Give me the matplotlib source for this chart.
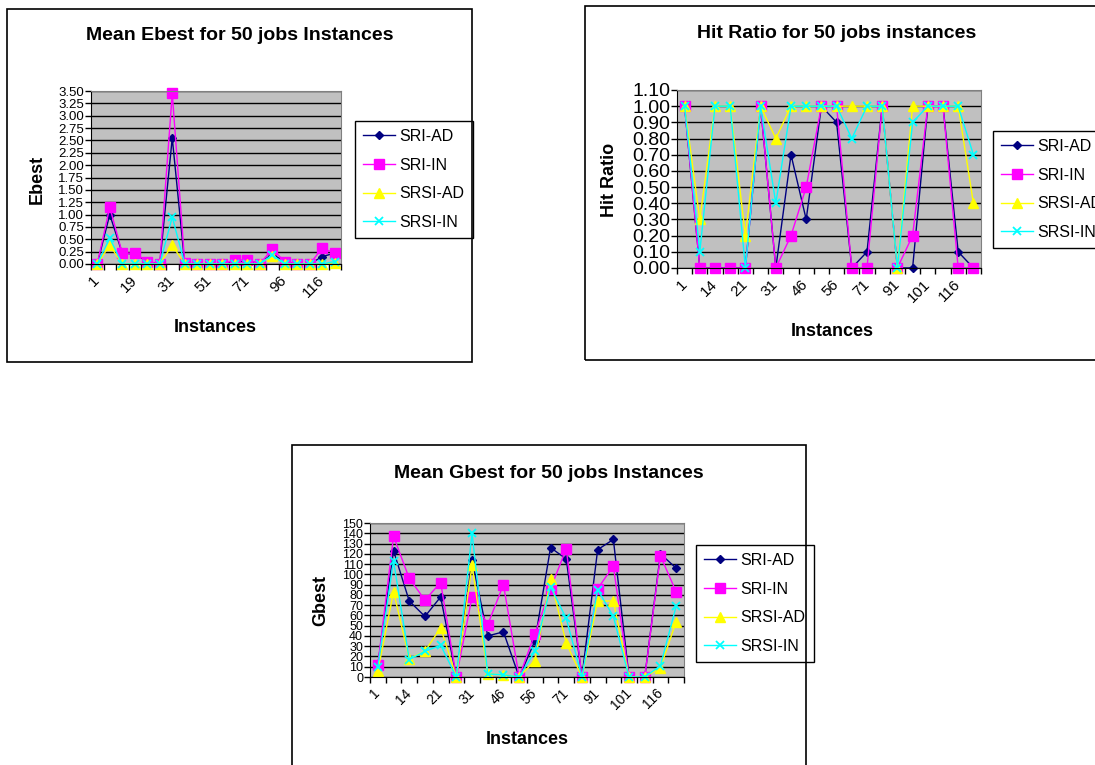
import matplotlib
matplotlib.use("Agg")
import matplotlib.pyplot as plt
from matplotlib.patches import Rectangle

plt.rcParams['font.family'] = ['Liberation Sans', 'DejaVu Sans']

W, H = 1095, 765

# instance labels (only every 2nd / 3rd one is shown, as in the original)
instances = ['1', '6', '14', '19', '21', '26', '31', '36', '46', '51',
             '56', '61', '71', '81', '91', '96', '101', '106', '116', '121']
series_names = ['SRI-AD', 'SRI-IN', 'SRSI-AD', 'SRSI-IN']

# Mean Ebest
ebest_sri_ad = [0, 1.0, 0.22, 0.20, 0.05, 0, 2.55, 0, 0, 0,
                0, 0.05, 0.05, 0.02, 0.20, 0.05, 0, 0, 0.15, 0.22]
ebest_sri_in = [0, 1.15, 0.22, 0.22, 0.05, 0, 3.45, 0.02, 0, 0,
                0, 0.08, 0.08, 0, 0.30, 0.05, 0, 0, 0.32, 0.22]
ebest_srsi_ad = [0, 0.38, 0, 0, 0, 0, 0.38, 0, 0, 0,
                 0, 0, 0, 0, 0.17, 0, 0, 0, 0, 0.03]
ebest_srsi_in = [0, 0.52, 0, 0, 0, 0, 0.95, 0, 0, 0,
                 0, 0, 0, 0, 0.18, 0, 0, 0, 0, 0.05]

# Hit ratio
hit_sri_ad = [1.0, 0, 0, 0, 0, 1.0, 0, 0.7, 0.3, 1.0,
              0.9, 0, 0.1, 1.0, 0, 0, 1.0, 1.0, 0.1, 0]
hit_sri_in = [1.0, 0, 0, 0, 0, 1.0, 0, 0.2, 0.5, 1.0,
              1.0, 0, 0, 1.0, 0, 0.2, 1.0, 1.0, 0, 0]
hit_srsi_ad = [1.0, 0.3, 1.0, 1.0, 0.2, 1.0, 0.8, 1.0, 1.0, 1.0,
               1.0, 1.0, 1.0, 1.0, 0, 1.0, 1.0, 1.0, 1.0, 0.4]
hit_srsi_in = [1.0, 0.1, 1.0, 1.0, 0, 1.0, 0.4, 1.0, 1.0, 1.0,
               1.0, 0.8, 1.0, 1.0, 0, 0.9, 1.0, 1.0, 1.0, 0.7]

# Mean Gbest
gbest_sri_ad = [12, 123, 74, 59, 78, 0, 114, 40, 44, 0,
                35, 126, 115, 0, 124, 134, 0, 0, 120, 106]
gbest_sri_in = [12, 137, 96, 75, 92, 0, 78, 51, 90, 0,
                42, 86, 125, 0, 86, 108, 0, 0, 118, 83]
gbest_srsi_ad = [6, 83, 18, 25, 48, 0, 109, 3, 2, 0,
                 16, 95, 33, 0, 74, 74, 0, 0, 9, 54]
gbest_srsi_in = [10, 113, 17, 25, 31, 0, 140, 3, 2, 0,
                 25, 88, 57, 0, 85, 59, 0, 0, 11, 69]

styles = [
    dict(color='#000080', marker='D', markersize=4.5),
    dict(color='#FF00FF', marker='s', markersize=6.5),
    dict(color='#FFFF00', marker='^', markersize=7),
    dict(color='#00FFFF', marker='x', markersize=6, markeredgewidth=1.3),
]


def fx(px):
    return px / W


def fy(py):
    return 1 - py / H


def draw_chart(fig, frame, plot, series, ymax, ystep, yfmt, ytick_fs,
               every, xtick_fs, title, title_xy, ylabel, ylabel_xy,
               xlabel_xy, legend_xy):
    # outer chart border
    x0, y0, x1, y1 = frame
    fig.add_artist(Rectangle((fx(x0), fy(y1)), (x1 - x0) / W, (y1 - y0) / H,
                             transform=fig.transFigure, fill=False,
                             edgecolor='black', lw=1.2))
    px0, py0, px1, py1 = plot
    ax = fig.add_axes([fx(px0), fy(py1), (px1 - px0) / W, (py1 - py0) / H])
    ax.set_facecolor('#C0C0C0')
    n = len(instances)
    xs = list(range(n))
    for vals, name, st in zip(series, series_names, styles):
        ax.plot(xs, vals, label=name, lw=1.0, clip_on=False, **st)

    ax.set_xlim(-0.5, n - 0.5)
    ax.set_ylim(0, ymax)
    nt = int(round(ymax / ystep))
    yt = [i * ystep for i in range(nt + 1)]
    ax.set_yticks(yt)
    ax.set_yticklabels([yfmt.format(v) for v in yt], fontsize=ytick_fs)
    ax.yaxis.grid(True, color='black', lw=1.0)
    ax.set_axisbelow(True)
    ax.tick_params(axis='y', length=4, width=1, pad=1)

    ax.set_xticks([i - 0.5 for i in range(n + 1)])
    ax.set_xticklabels([])
    ax.tick_params(axis='x', which='major', length=4, width=1)
    ax.set_xticks(xs[::every], minor=True)
    ax.set_xticklabels(instances[::every], minor=True, fontsize=xtick_fs,
                       rotation=45, ha='right', va='center',
                       rotation_mode='anchor')
    ax.tick_params(axis='x', which='minor', length=0, pad=10)

    for s in ['top', 'right']:
        ax.spines[s].set_color('#808080')
    for s in ['left', 'bottom']:
        ax.spines[s].set_color('black')

    fig.text(fx(title_xy[0]), fy(title_xy[1]), title, fontsize=14,
             fontweight='bold', ha='center', va='center')
    fig.text(fx(ylabel_xy[0]), fy(ylabel_xy[1]), ylabel, fontsize=13,
             fontweight='bold', ha='center', va='center', rotation=90)
    fig.text(fx(xlabel_xy[0]), fy(xlabel_xy[1]), 'Instances', fontsize=13,
             fontweight='bold', ha='center', va='center')

    leg = ax.legend(loc='upper left', bbox_to_anchor=(fx(legend_xy[0]), fy(legend_xy[1])),
                    bbox_transform=fig.transFigure, fontsize=11.5, frameon=True,
                    fancybox=False, edgecolor='black', framealpha=1,
                    handlelength=2.0, handletextpad=0.3, labelspacing=0.85,
                    borderpad=0.5, borderaxespad=0)
    leg.get_frame().set_linewidth(1.0)
    return ax


fig = plt.figure(figsize=(W / 100, H / 100), dpi=100)

draw_chart(fig, (7, 9, 472, 362), (91, 91, 341, 264),
           [ebest_sri_ad, ebest_sri_in, ebest_srsi_ad, ebest_srsi_in],
           3.5, 0.25, '{:.2f}', 9.5, 3, 11,
           'Mean Ebest for 50 jobs Instances', (240, 35),
           'Ebest', (37, 179), (215, 328), (355, 121))

draw_chart(fig, (585, 6, 1102, 360), (677, 90, 981, 268),
           [hit_sri_ad, hit_sri_in, hit_srsi_ad, hit_srsi_in],
           1.1, 0.1, '{:.2f}', 14, 2, 11,
           'Hit Ratio for 50 jobs instances', (837, 34),
           'Hit Ratio', (610, 180), (832, 332), (993, 131))

draw_chart(fig, (292, 445, 806, 775), (370, 523, 684, 677),
           [gbest_sri_ad, gbest_sri_in, gbest_srsi_ad, gbest_srsi_in],
           150, 10, '{:.0f}', 9, 2, 10,
           'Mean Gbest for 50 jobs Instances', (549, 473),
           'Gbest', (321, 600), (527, 740), (696, 545))

fig.savefig('out.png', dpi=100, facecolor='white')
